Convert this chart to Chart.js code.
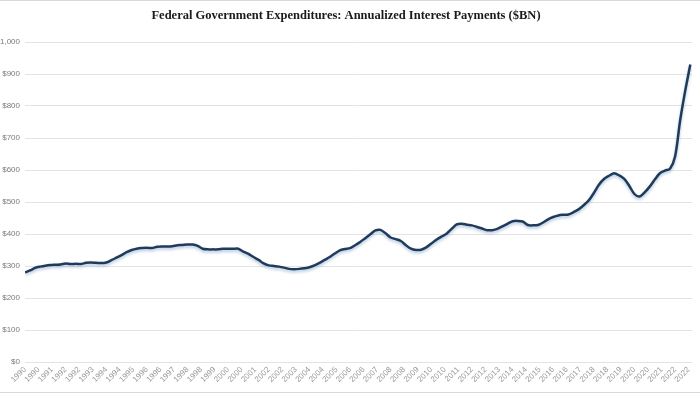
<!DOCTYPE html>
<html>
<head>
<meta charset="utf-8">
<script src="https://cdn.jsdelivr.net/npm/chart.js@4/dist/chart.umd.min.js"></script>
<style>
html,body{margin:0;padding:0;background:#fff;}
#wrap{width:700px;height:394px;position:relative;}
</style>
</head>
<body>
<div id="wrap"><canvas id="c" width="700" height="394"></canvas></div>
<script>
// Tick labels along the x axis (one every 8 months from Jan 1990)
const tickLabels = [
  "1990","1990","1991","1992","1992","1993","1994","1994","1995","1996",
  "1996","1997","1998","1998","1999","2000","2000","2001","2002","2002",
  "2003","2004","2004","2005","2006","2006","2007","2008","2008","2009",
  "2010","2010","2011","2012","2012","2013","2014","2014","2015","2016",
  "2016","2017","2018","2018","2019","2020","2020","2021","2022","2022"
];
// Quarterly annualized interest payments, $BN, 1990Q1 .. 2022Q4
const interestPayments = [
  280,286,294,298,301,303,304,305,308,306,
  307,306,310,311,310,309,311,318,326,334,
  343,350,354,356,357,356,360,361,361,362,
  365,366,367,367,363,354,352,352,352,354,
  354,354,354,345,338,328,319,308,302,300,
  298,295,291,290,291,293,296,302,310,319,
  328,339,349,353,356,365,375,387,399,411,
  413,402,389,384,378,365,354,350,351,358,
  370,382,392,401,416,430,432,429,427,422,
  417,412,412,416,424,432,440,441,439,428,
  427,428,436,446,453,458,460,461,468,477,
  490,505,528,554,572,582,590,583,572,550,
  525,517,530,548,570,590,598,604,642,755,
  848,930
];
const yTickValues = [0,100,200,300,400,500,600,700,800,900,1000];
const yTickLabels = ["$0","$100","$200","$300","$400","$500","$600","$700","$800","$900","$1,000"];
const MONTHS_PER_QUARTER = 3;
const MONTHS_PER_LABEL = 8;

const points = interestPayments.map((v, i) => ({x: i * MONTHS_PER_QUARTER, y: v}));

const frame = {
  id: 'frame',
  beforeDraw(chart) {
    const ctx = chart.ctx;
    ctx.save();
    ctx.fillStyle = '#fff';
    ctx.fillRect(0, 0, chart.width, chart.height);
    ctx.strokeStyle = '#d9d9d9';
    ctx.lineWidth = 1;
    ctx.beginPath();
    ctx.moveTo(0, 0.5); ctx.lineTo(chart.width, 0.5);
    ctx.moveTo(0, chart.height - 1.5); ctx.lineTo(chart.width, chart.height - 1.5);
    ctx.stroke();
    ctx.restore();
  },
  beforeDatasetDraw(chart) {
    const ctx = chart.ctx;
    ctx.save();
    ctx.shadowColor = 'rgba(90,130,180,0.45)';
    ctx.shadowBlur = 3;
    ctx.shadowOffsetY = 2;
  },
  afterDatasetDraw(chart) {
    chart.ctx.restore();
  }
};

new Chart(document.getElementById('c'), {
  type: 'line',
  data: {
    datasets: [{
      data: points,
      borderColor: '#1f3b5c',
      borderWidth: 2.5,
      pointRadius: 0,
      tension: 0.3,
      fill: false
    }]
  },
  plugins: [frame],
  options: {
    responsive: false,
    animation: false,
    layout: {padding: {top: 0, right: 8, bottom: 0, left: 0}},
    plugins: {
      legend: {display: false},
      tooltip: {enabled: false},
      title: {
        display: true,
        text: 'Federal Government Expenditures: Annualized Interest Payments ($BN)',
        color: '#1a1a1a',
        font: {family: 'Liberation Serif', size: 12.5, weight: 'bold', lineHeight: 1.2},
        padding: {top: 8, bottom: 19}
      }
    },
    scales: {
      x: {
        type: 'linear',
        min: 0,
        max: 394,
        grid: {display: false, drawTicks: false},
        border: {display: false},
        afterFit(s) { s.height = 32; },
        afterBuildTicks(s) {
          s.ticks = tickLabels.map((_, i) => ({value: i * MONTHS_PER_LABEL}));
        },
        ticks: {
          autoSkip: false,
          minRotation: 45,
          maxRotation: 45,
          padding: 3,
          color: '#9a9a9a',
          font: {family: 'Liberation Sans', size: 8},
          callback: (v, i) => tickLabels[i]
        }
      },
      y: {
        min: 0,
        max: 1000,
        grid: {color: '#e3e3e3', lineWidth: 1, drawTicks: false},
        border: {display: false},
        afterFit(s) { s.width = 25; },
        afterBuildTicks(s) {
          s.ticks = yTickValues.map(v => ({value: v}));
        },
        ticks: {
          padding: 5,
          color: '#7a7a7a',
          font: {family: 'Liberation Sans', size: 8},
          callback: (v, i) => yTickLabels[i]
        }
      }
    }
  }
});
</script>
</body>
</html>
